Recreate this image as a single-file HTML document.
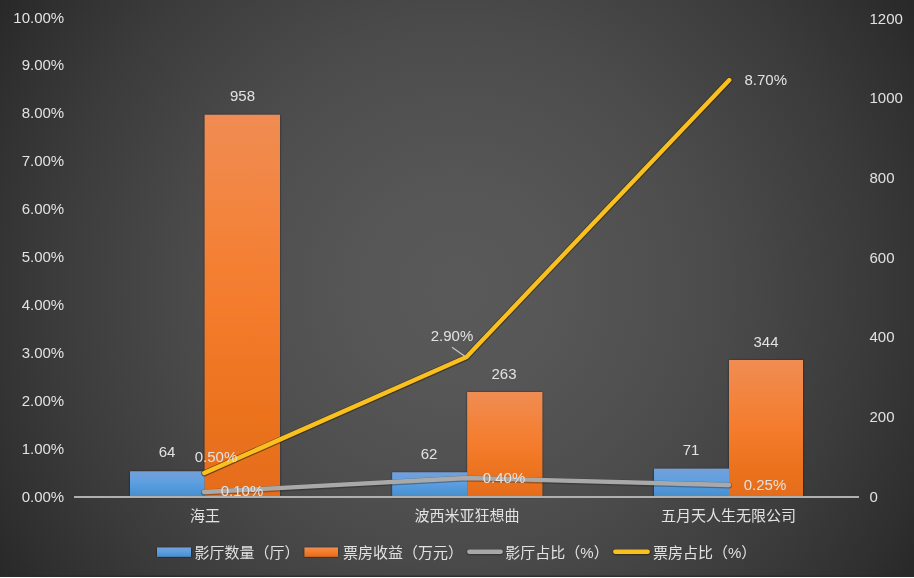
<!DOCTYPE html>
<html lang="zh-CN">
<head>
<meta charset="utf-8">
<title>影厅与票房占比</title>
<style>
  html, body { margin: 0; padding: 0; background: #2b2b2b; }
  body { width: 914px; height: 578px; overflow: hidden; }
  svg { display: block; }
  text {
    font-family: "Liberation Sans", "Noto Sans CJK SC", sans-serif;
    font-size: 15px;
    fill: #e2e2e2;
  }
  .t, svg > text { opacity: 0.999; }
  .r { text-anchor: end; }
  .m { text-anchor: middle; }
</style>
</head>
<body>
<svg width="914" height="578" viewBox="0 0 914 578">
  <defs>
    <radialGradient id="bg" gradientUnits="userSpaceOnUse" cx="457" cy="289" r="541">
      <stop offset="0.0000" stop-color="#595959"/>
      <stop offset="0.0833" stop-color="#585858"/>
      <stop offset="0.1667" stop-color="#575757"/>
      <stop offset="0.2500" stop-color="#545454"/>
      <stop offset="0.3333" stop-color="#515151"/>
      <stop offset="0.4167" stop-color="#4e4e4e"/>
      <stop offset="0.5000" stop-color="#4a4a4a"/>
      <stop offset="0.5833" stop-color="#454545"/>
      <stop offset="0.6667" stop-color="#404040"/>
      <stop offset="0.7500" stop-color="#3b3b3b"/>
      <stop offset="0.8333" stop-color="#353535"/>
      <stop offset="0.9167" stop-color="#2f2f2f"/>
      <stop offset="1.0000" stop-color="#282828"/>
    </radialGradient>
    <linearGradient id="gOrange" x1="0" y1="0" x2="0" y2="1">
      <stop offset="0" stop-color="#f08c53"/>
      <stop offset="0.2" stop-color="#f28643"/>
      <stop offset="0.4" stop-color="#f47f33"/>
      <stop offset="0.55" stop-color="#f37a2a"/>
      <stop offset="0.7" stop-color="#ee7521"/>
      <stop offset="0.85" stop-color="#ea711d"/>
      <stop offset="1" stop-color="#e56c19"/>
    </linearGradient>
    <linearGradient id="gBlue" x1="0" y1="0" x2="0" y2="1">
      <stop offset="0" stop-color="#759fda"/>
      <stop offset="0.4" stop-color="#5fa0e0"/>
      <stop offset="0.7" stop-color="#5097db"/>
      <stop offset="1" stop-color="#498ec6"/>
    </linearGradient>
    <filter id="sh" x="-10%" y="-10%" width="120%" height="120%">
      <feDropShadow dx="0" dy="0.3" stdDeviation="1" flood-color="#000" flood-opacity="0.6"/>
    </filter>
  </defs>

  <!-- background -->
  <rect x="0" y="0" width="914" height="578" fill="url(#bg)"/>

  <!-- left axis labels -->
  <g class="r t">
    <text x="64.2" y="23">10.00%</text>
    <text x="64.2" y="69.5">9.00%</text>
    <text x="64.2" y="118">8.00%</text>
    <text x="64.2" y="166">7.00%</text>
    <text x="64.2" y="214">6.00%</text>
    <text x="64.2" y="262">5.00%</text>
    <text x="64.2" y="310">4.00%</text>
    <text x="64.2" y="357.5">3.00%</text>
    <text x="64.2" y="405.5">2.00%</text>
    <text x="64.2" y="453.5">1.00%</text>
    <text x="64.2" y="501.5">0.00%</text>
  </g>

  <!-- right axis labels -->
  <g class="t">
    <text x="869.5" y="23.5">1200</text>
    <text x="869.5" y="103">1000</text>
    <text x="869.5" y="182.5">800</text>
    <text x="869.5" y="262.5">600</text>
    <text x="869.5" y="342">400</text>
    <text x="869.5" y="421.5">200</text>
    <text x="869.5" y="501.5">0</text>
  </g>

  <!-- bars -->
  <g filter="url(#sh)">
    <rect x="130" y="471.3" width="74.7" height="25.7" fill="url(#gBlue)"/>
    <rect x="204.7" y="114.8" width="75.3" height="382.2" fill="url(#gOrange)"/>
    <rect x="392.2" y="472.3" width="75" height="24.7" fill="url(#gBlue)"/>
    <rect x="467.2" y="392" width="75.1" height="105" fill="url(#gOrange)"/>
    <rect x="654" y="468.7" width="75" height="28.3" fill="url(#gBlue)"/>
    <rect x="729" y="360" width="74" height="137" fill="url(#gOrange)"/>
  </g>

  <!-- axis line -->
  <line x1="74" y1="497" x2="859" y2="497" stroke="#b0b0b0" stroke-width="2"/>

  <!-- lines -->
  <g fill="none" stroke-linecap="round" stroke-linejoin="round">
    <polyline points="204,492.6 466.5,478.6 729,485.6" stroke="#1c1c1c" stroke-opacity="0.35" stroke-width="6"/>
    <polyline points="204,492 466.5,478 729,485" stroke="#a9a9a9" stroke-width="4.4"/>
    <polyline points="204.3,473.3 466.5,357.3 729.3,80.3" stroke="#2c2008" stroke-opacity="0.6" stroke-width="6.2"/>
    <polyline points="204.3,473 466.5,357 729.3,80" stroke="#f9c01f" stroke-width="4.4"/>
  </g>

  <!-- leader -->
  <line x1="452" y1="347.3" x2="464.8" y2="356.2" stroke="#c4c4c4" stroke-width="1.3"/>

  <!-- data labels -->
  <g class="m t">
    <text x="242.5" y="101">958</text>
    <text x="167" y="456.7">64</text>
    <text x="216" y="461.5">0.50%</text>
    <text x="242" y="496.2">0.10%</text>
    <text x="452" y="340.5">2.90%</text>
    <text x="504" y="378.5">263</text>
    <text x="429" y="458.5">62</text>
    <text x="504" y="482.5">0.40%</text>
    <text x="765.8" y="84.5">8.70%</text>
    <text x="766" y="346.5">344</text>
    <text x="691" y="454.5">71</text>
    <text x="765" y="489.5">0.25%</text>
  </g>

  <!-- category labels -->
  <g class="m t">
    <text x="205" y="521">海王</text>
    <text x="467" y="521">波西米亚狂想曲</text>
    <text x="728.5" y="521">五月天人生无限公司</text>
  </g>

  <!-- legend -->
  <rect x="157" y="547.5" width="34" height="9.3" fill="url(#gBlue)" filter="url(#sh)"/>
  <text x="194.6" y="558">影厅数量（厅）</text>
  <rect x="304.5" y="547.5" width="33.5" height="9.3" fill="url(#gOrange)" filter="url(#sh)"/>
  <text x="343" y="558">票房收益（万元）</text>
  <g fill="none" stroke-linecap="round">
    <line x1="469.3" y1="552.2" x2="500.7" y2="552.2" stroke="#1c1c1c" stroke-opacity="0.4" stroke-width="6"/>
    <line x1="469.3" y1="551.8" x2="500.7" y2="551.8" stroke="#a8a8a8" stroke-width="4.4"/>
    <line x1="615.3" y1="552.2" x2="647.7" y2="552.2" stroke="#2c2008" stroke-opacity="0.55" stroke-width="6"/>
    <line x1="615.3" y1="551.8" x2="647.7" y2="551.8" stroke="#f9c01f" stroke-width="4.4"/>
  </g>
  <text x="505.3" y="558">影厅占比（%）</text>
  <text x="653" y="558">票房占比（%）</text>

  <!-- bottom edge -->
  <rect x="0" y="575.6" width="914" height="1.4" fill="#2c2c2c" fill-opacity="0.85"/>
  <rect x="0" y="577" width="914" height="1" fill="#fafafa"/>
</svg>
</body>
</html>
